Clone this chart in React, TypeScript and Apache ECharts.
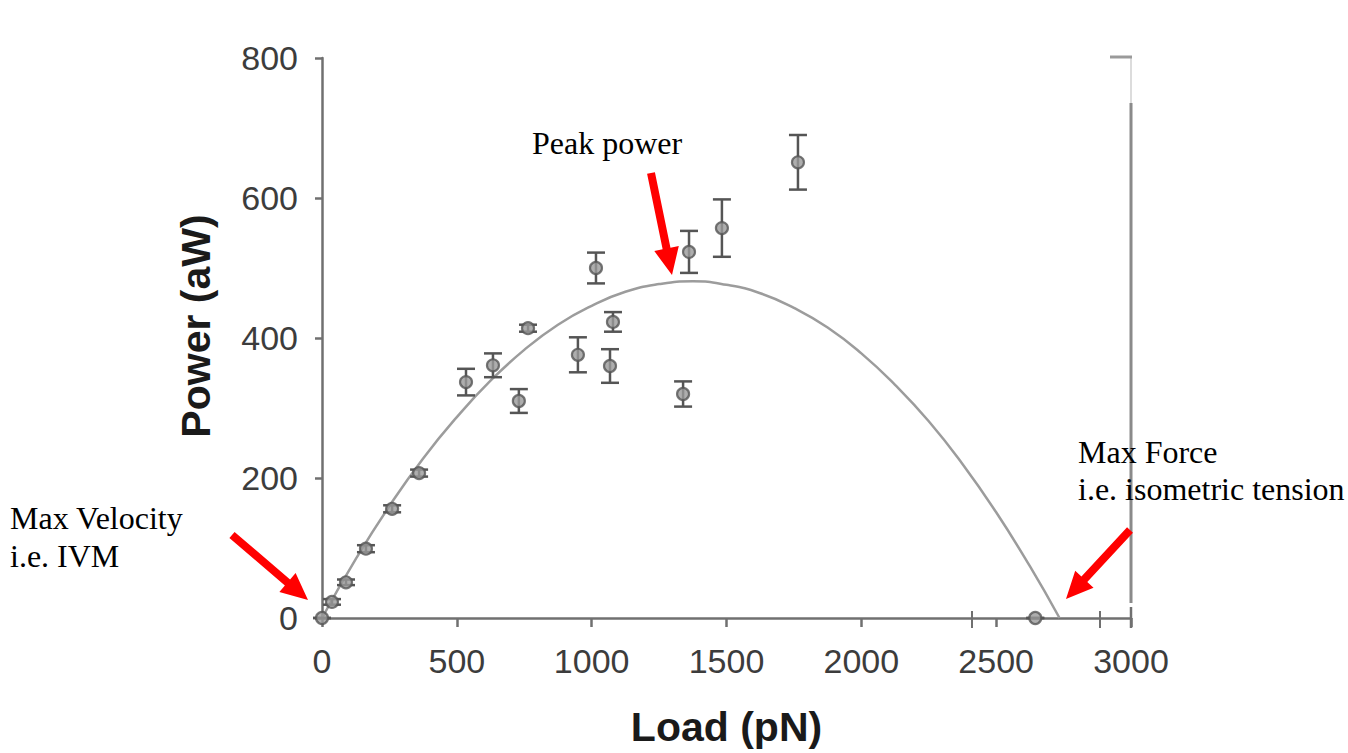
import React, { useEffect, useRef } from "react";
import * as echarts from "echarts";

// Measured load / power points with their error-bar half-widths
const loads = [0, 37, 89, 163, 260, 360, 534, 634, 730, 764, 949, 1016, 1068, 1079, 1339, 1361, 1483, 1765, 2645];
const powers = [0, 23, 51, 99, 156, 207, 337, 361, 310, 414, 376, 500, 360, 423, 320, 523, 557, 651, 0];
const errors = [0, 4, 4, 5, 5, 5, 19, 17, 17, 5, 25, 22, 24, 14, 18, 30, 41, 39, 0];

// Fitted power curve
const curveLoad = [0, 125, 250, 375, 500, 625, 750, 875, 1000, 1125, 1250, 1375, 1500, 1625, 1750, 1875, 2000, 2125, 2250, 2375, 2500, 2625, 2735];
const curvePower = [0, 84, 160, 228, 287, 339, 383, 419, 446, 466, 477, 481, 476, 464, 443, 415, 378, 333, 281, 220, 151, 74, 0];

const xTicks = { min: 0, max: 3000, interval: 500 };
const yTicks = { min: 0, max: 800, interval: 200 };

const AXIS_GRAY = "#707070";
const MARK_GRAY = "#555555";

// Red arrow polygon from tail (x1, y1) to tip (x2, y2)
function arrowPoints(x1: number, y1: number, x2: number, y2: number, shaft = 8, headLen = 27, headW = 25) {
  const dx = x2 - x1;
  const dy = y2 - y1;
  const len = Math.hypot(dx, dy);
  const ux = dx / len;
  const uy = dy / len;
  const nx = -uy;
  const ny = ux;
  const bx = x2 - ux * headLen;
  const by = y2 - uy * headLen;
  const s = shaft / 2;
  const h = headW / 2;
  return [
    [x1 + nx * s, y1 + ny * s],
    [bx + nx * s, by + ny * s],
    [bx + nx * h, by + ny * h],
    [x2, y2],
    [bx - nx * h, by - ny * h],
    [bx - nx * s, by - ny * s],
    [x1 - nx * s, y1 - ny * s],
  ];
}

function redArrow(x1: number, y1: number, x2: number, y2: number) {
  return {
    type: "polygon",
    shape: { points: arrowPoints(x1, y1, x2, y2) },
    style: { fill: "#ff0000" },
    z: 100,
  };
}

function note(x: number, y: number, text: string) {
  return {
    type: "text",
    x,
    y,
    style: {
      text,
      fill: "#000000",
      font: '32px "Liberation Serif", "Times New Roman", serif',
      verticalAlign: "middle",
      align: "left",
    },
    z: 100,
  };
}

function seg(x1: number, y1: number, x2: number, y2: number, stroke: string, lineWidth: number) {
  return {
    type: "line",
    shape: { x1, y1, x2, y2 },
    style: { stroke, lineWidth },
    z: 50,
  };
}

export default function App() {
  const ref = useRef<HTMLDivElement>(null);

  useEffect(() => {
    if (!ref.current) return;
    const chart = echarts.init(ref.current, undefined, { renderer: "svg" });

    const points = loads.map((x, i) => [x, powers[i]]);
    const bars = loads.map((x, i) => [x, powers[i] - errors[i], powers[i] + errors[i]]);
    const curve = curveLoad.map((x, i) => [x, curvePower[i]]);

    chart.setOption({
      animation: false,
      backgroundColor: "#ffffff",
      grid: {
        left: 322,
        right: 217,
        top: 58,
        bottom: 135,
        outerBoundsMode: "none",
      },
      xAxis: {
        type: "value",
        ...xTicks,
        name: "Load (pN)",
        nameLocation: "middle",
        nameGap: 88,
        nameTextStyle: {
          fontFamily: '"Liberation Sans", Arial, sans-serif',
          fontWeight: "bold",
          fontSize: 41,
          color: "#1a1a1a",
        },
        axisLine: { show: true, lineStyle: { color: AXIS_GRAY, width: 2.5 } },
        axisTick: { show: true, inside: false, length: 9, lineStyle: { color: AXIS_GRAY, width: 2.5 } },
        axisLabel: {
          fontFamily: '"Liberation Sans", Arial, sans-serif',
          fontSize: 34,
          color: "#3c3c3c",
          margin: 26,
          formatter: (v: number) => String(v),
        },
        splitLine: { show: false },
      },
      yAxis: {
        type: "value",
        ...yTicks,
        name: "Power (aW)",
        nameLocation: "middle",
        nameGap: 106,
        nameTextStyle: {
          fontFamily: '"Liberation Sans", Arial, sans-serif',
          fontWeight: "bold",
          fontSize: 41,
          color: "#1a1a1a",
          padding: [0, 0, 0, 24],
        },
        axisLine: { show: true, lineStyle: { color: AXIS_GRAY, width: 2.5 } },
        axisTick: { show: true, inside: false, length: 7, lineStyle: { color: AXIS_GRAY, width: 2.5 } },
        axisLabel: {
          fontFamily: '"Liberation Sans", Arial, sans-serif',
          fontSize: 34,
          color: "#3c3c3c",
          margin: 24,
          formatter: (v: number) => String(v),
        },
        splitLine: { show: false },
      },
      series: [
        {
          type: "line",
          data: curve,
          smooth: true,
          showSymbol: false,
          lineStyle: { color: "#9c9c9c", width: 2.5 },
          z: 2,
        },
        {
          type: "custom",
          data: bars,
          renderItem: (params: any, api: any) => {
            const x = api.value(0);
            const lo = api.coord([x, api.value(1)]);
            const hi = api.coord([x, api.value(2)]);
            const cap = 9;
            const style = { stroke: MARK_GRAY, lineWidth: 2.5 };
            return {
              type: "group",
              children: [
                { type: "line", shape: { x1: lo[0], y1: lo[1], x2: hi[0], y2: hi[1] }, style },
                { type: "line", shape: { x1: hi[0] - cap, y1: hi[1], x2: hi[0] + cap, y2: hi[1] }, style },
                { type: "line", shape: { x1: lo[0] - cap, y1: lo[1], x2: lo[0] + cap, y2: lo[1] }, style },
              ],
            };
          },
          z: 3,
        },
        {
          type: "scatter",
          data: points,
          symbol: "circle",
          symbolSize: 12,
          itemStyle: { color: "#9a9a9a", borderColor: MARK_GRAY, borderWidth: 2.2 },
          z: 4,
        },
      ],
      graphic: [
        // right frame edge and top corner
        seg(1131, 103, 1131, 603, "#8a8a8a", 3),
        seg(1131, 57, 1131, 103, "#d0d0d0", 1.5),
        seg(1110, 57, 1132, 57, "#9a9a9a", 3),
        // extra tick marks on the load axis
        seg(972, 611, 972, 628, AXIS_GRAY, 2),
        seg(1100, 611, 1100, 628, AXIS_GRAY, 2),
        seg(1131, 607, 1131, 628, AXIS_GRAY, 2.5),
        note(532, 143, "Peak power"),
        note(10, 518, "Max Velocity"),
        note(10, 556, "i.e. IVM"),
        note(1078, 452, "Max Force"),
        note(1078, 489, "i.e. isometric tension"),
        redArrow(651, 173, 672, 275),
        redArrow(232, 535, 308, 600),
        redArrow(1130, 530, 1066, 599),
      ],
    });

    return () => chart.dispose();
  }, []);

  return (
    <div
      ref={ref}
      style={{ position: "fixed", left: 0, top: 0, width: 1348, height: 753, background: "#ffffff" }}
    />
  );
}
